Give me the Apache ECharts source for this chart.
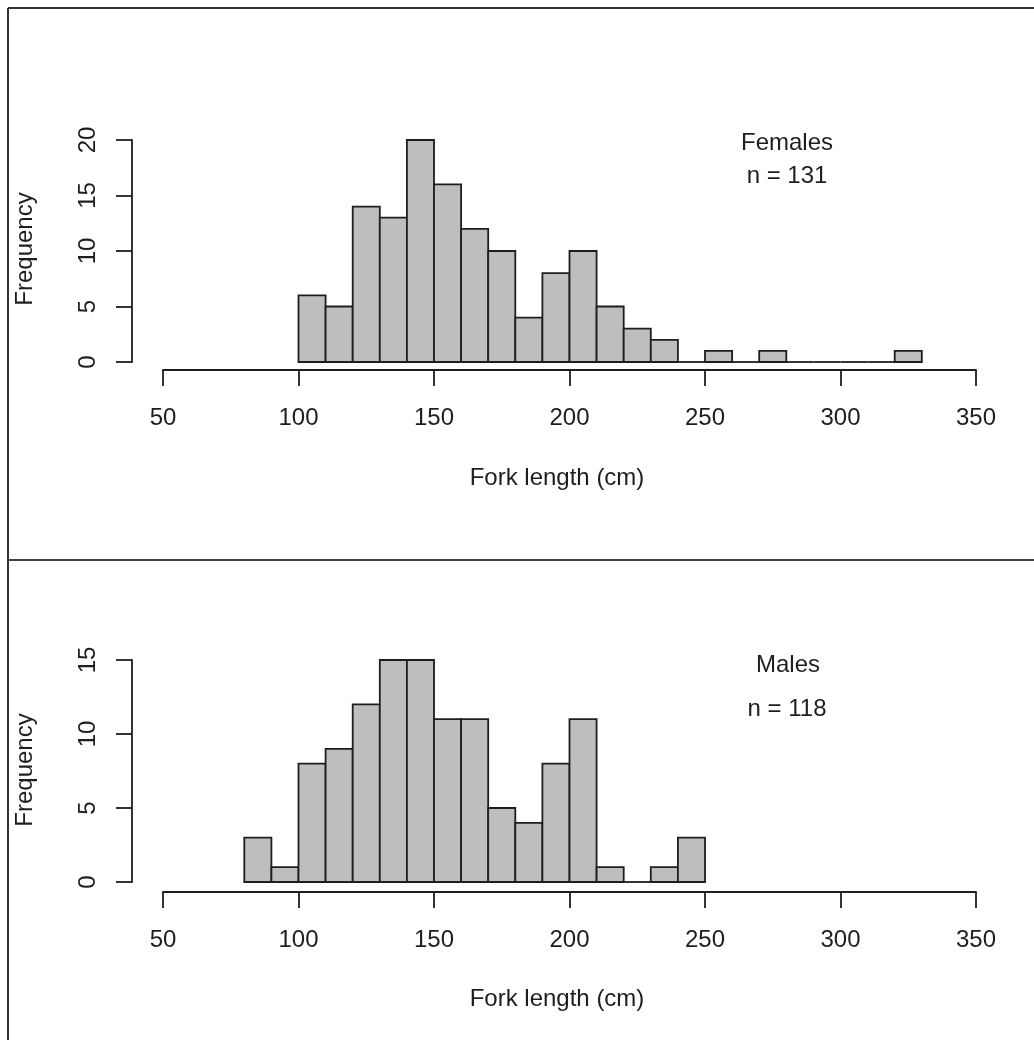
<!DOCTYPE html>
<html>
<head>
<meta charset="utf-8">
<script src="https://cdn.jsdelivr.net/npm/echarts@6/dist/echarts.min.js"></script>
<style>
	html, body { margin: 0; padding: 0; background: #fff; }
	#chart { width: 1034px; height: 1040px; }
</style>
</head>
<body>
<div id="chart"></div>
<script>
// 直方图数据（分组起点 + 频数）
const binWidth = 10;
const femaleBinStarts = [100, 110, 120, 130, 140, 150, 160, 170, 180, 190, 200, 210, 220, 230, 240, 250, 260, 270, 280, 290, 300, 310, 320];
const femaleCounts = [6, 5, 14, 13, 20, 16, 12, 10, 4, 8, 10, 5, 3, 2, 0, 1, 0, 1, 0, 0, 0, 0, 1];
const maleBinStarts = [80, 90, 100, 110, 120, 130, 140, 150, 160, 170, 180, 190, 200, 210, 220, 230, 240];
const maleCounts = [3, 1, 8, 9, 12, 15, 15, 11, 11, 5, 4, 8, 11, 1, 0, 1, 3];

// 坐标轴刻度
const xTicks = [50, 100, 150, 200, 250, 300, 350];
const femaleYTicks = [0, 5, 10, 15, 20];
const maleYTicks = [0, 5, 10, 15];

const labels = {
	female: ['Females', 'n = 131'],
	male: ['Males', 'n = 118'],
	xName: 'Fork length (cm)',
	yName: 'Frequency'
};

const FONT = '"Liberation Sans", Arial, sans-serif';
const INK = '#1e1e1e';

const chart = echarts.init(document.getElementById('chart'), null, { renderer: 'canvas' });

// 把分组数据转成 [起点, 终点, 频数]
function toBins(starts, counts) {
	return starts.map((s, i) => [s, s + binWidth, counts[i]]);
}

function renderBin(params, api) {
	const count = api.value(2);
	const p0 = api.coord([api.value(0), count]);
	const p1 = api.coord([api.value(1), 0]);
	if (!count) { // 频数为0时R也会画一条底线
		return {
			type: 'line',
			shape: { x1: p0[0], y1: p1[1], x2: p1[0], y2: p1[1] },
			style: { stroke: INK, lineWidth: 1.8 }
		};
	}
	return {
		type: 'rect',
		shape: { x: p0[0], y: p0[1], width: p1[0] - p0[0], height: p1[1] - p0[1] },
		style: { fill: '#bebebe', stroke: INK, lineWidth: 1.8 }
	};
}

function xAxisOf(gridIndex, offset) {
	return {
		type: 'value', gridIndex: gridIndex,
		min: xTicks[0], max: xTicks[xTicks.length - 1], interval: 50,
		offset: offset,
		axisLine: { show: true, onZero: false, lineStyle: { color: INK, width: 1.8 } },
		axisTick: { show: true, length: 16, lineStyle: { color: INK, width: 1.8 } },
		axisLabel: { color: INK, fontSize: 24, fontFamily: FONT, margin: 36 },
		splitLine: { show: false }
	};
}

function yAxisOf(gridIndex, ticks) {
	return {
		type: 'value', gridIndex: gridIndex,
		min: ticks[0], max: ticks[ticks.length - 1], interval: 5,
		offset: 31,
		axisLine: { show: true, onZero: false, lineStyle: { color: INK, width: 1.8 } },
		axisTick: { show: true, length: 16, lineStyle: { color: INK, width: 1.8 } },
		axisLabel: { color: INK, fontSize: 24, fontFamily: FONT, rotate: 90, margin: 32 },
		splitLine: { show: false }
	};
}

function text(str, x, y, rotation) {
	return {
		type: 'text', x: x, y: y, rotation: rotation || 0,
		style: { text: str, font: '24px ' + FONT, fill: INK, align: 'center', verticalAlign: 'middle' }
	};
}

const option = {
	backgroundColor: '#fff',
	animation: false,
	grid: [
		{ left: 163, top: 140, width: 813, height: 222 },
		{ left: 163, top: 660, width: 813, height: 222 }
	],
	xAxis: [xAxisOf(0, 8), xAxisOf(1, 10)],
	yAxis: [yAxisOf(0, femaleYTicks), yAxisOf(1, maleYTicks)],
	series: [
		{ type: 'custom', xAxisIndex: 0, yAxisIndex: 0, renderItem: renderBin, encode: { x: [0, 1], y: 2 }, data: toBins(femaleBinStarts, femaleCounts), clip: false },
		{ type: 'custom', xAxisIndex: 1, yAxisIndex: 1, renderItem: renderBin, encode: { x: [0, 1], y: 2 }, data: toBins(maleBinStarts, maleCounts), clip: false }
	],
	graphic: [
		// 外框和分隔线
		{ type: 'line', shape: { x1: 8, y1: 8, x2: 1034, y2: 8 }, style: { stroke: '#333', lineWidth: 2 } },
		{ type: 'line', shape: { x1: 8, y1: 8, x2: 8, y2: 1040 }, style: { stroke: '#333', lineWidth: 2 } },
		{ type: 'line', shape: { x1: 8, y1: 560, x2: 1034, y2: 560 }, style: { stroke: '#444', lineWidth: 2 } },
		// 图注
		text(labels.female[0], 787, 143),
		text(labels.female[1], 787, 176),
		text(labels.male[0], 788, 665),
		text(labels.male[1], 787, 709),
		// 轴标题
		text(labels.xName, 557, 478),
		text(labels.xName, 557, 999),
		text(labels.yName, 25, 249, Math.PI / 2),
		text(labels.yName, 25, 770, Math.PI / 2)
	]
};

chart.setOption(option);
</script>
</body>
</html>
